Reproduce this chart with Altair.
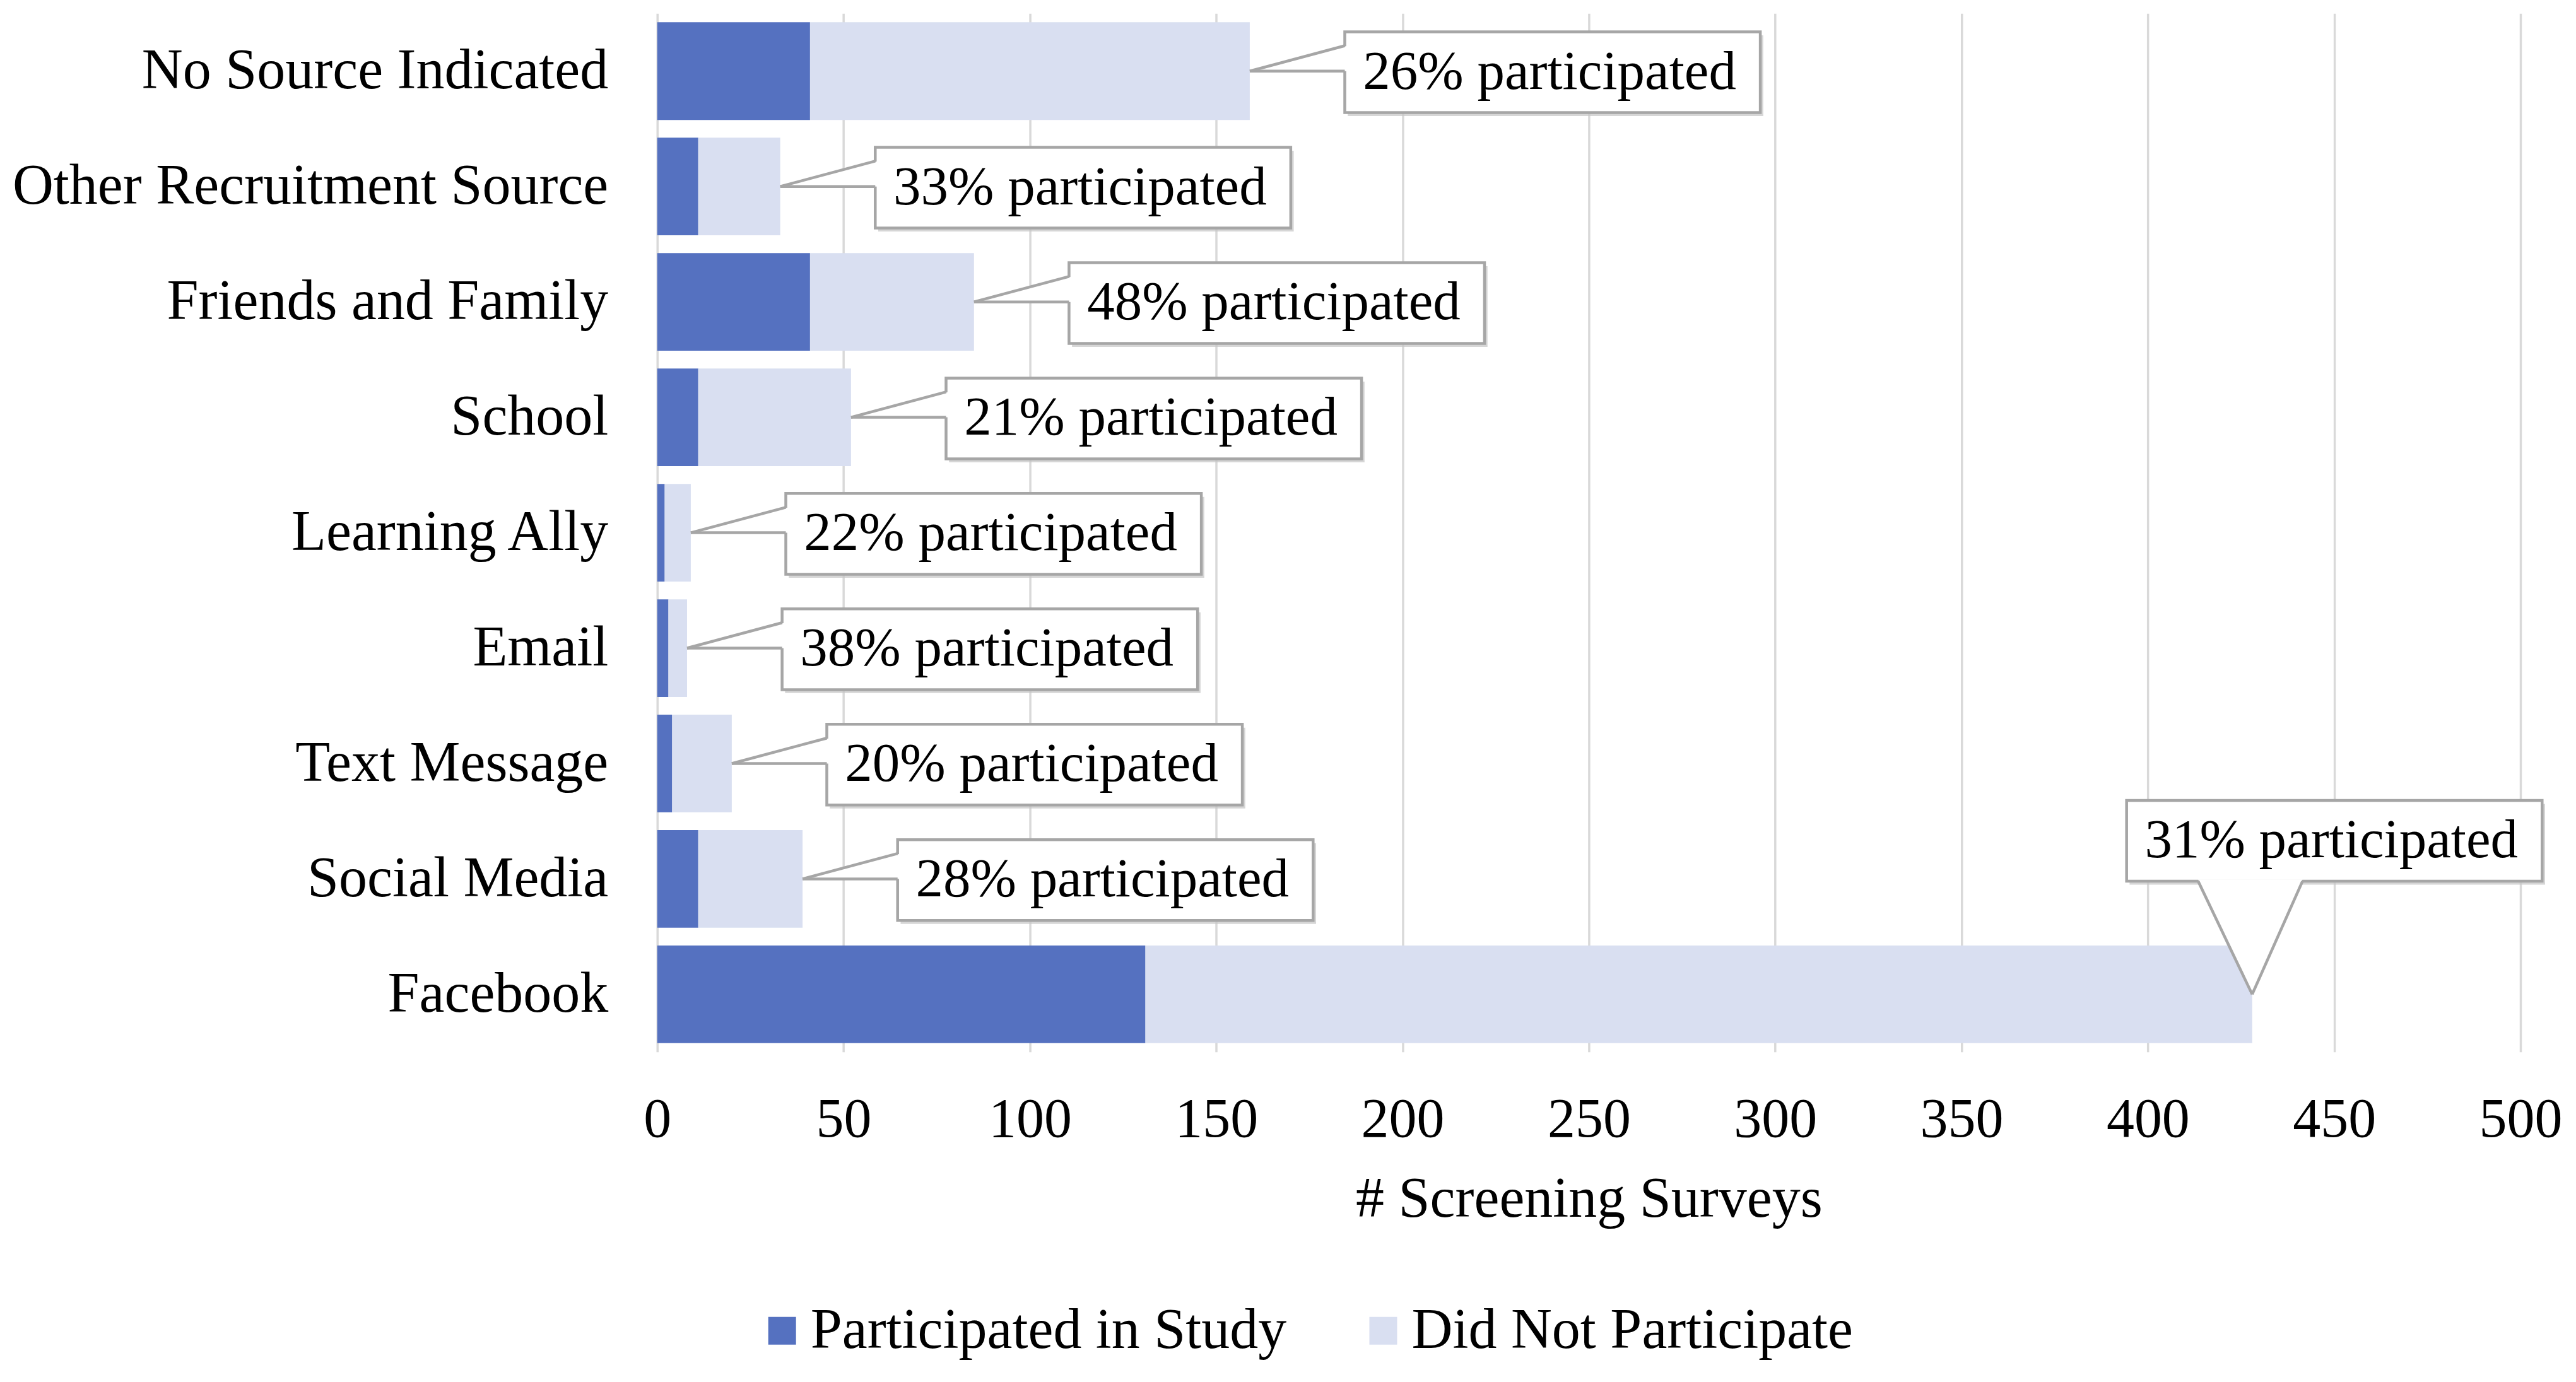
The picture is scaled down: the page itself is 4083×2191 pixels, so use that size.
import json
import altair as alt
import pandas as pd

# ---------------- data ----------------
categories = [
    "No Source Indicated",
    "Other Recruitment Source",
    "Friends and Family",
    "School",
    "Learning Ally",
    "Email",
    "Text Message",
    "Social Media",
    "Facebook",
]
participated = [41, 11, 41, 11, 2, 3, 4, 11, 131]
did_not_participate = [118, 22, 44, 41, 7, 5, 16, 28, 297]
pct_participated = [26, 33, 48, 21, 22, 38, 20, 28, 31]
series_names = ["Participated in Study", "Did Not Participate"]
x_ticks = [0, 50, 100, 150, 200, 250, 300, 350, 400, 450, 500]
x_title = "# Screening Surveys"

# ---------------- style / layout constants ----------------
FONT = "Liberation Serif"
COLORS = ["#5571c0", "#d9dff1"]
BORDER = "#a6a6a6"
XMAX = 500
BAR_HALF = 0.423      # half bar thickness in rows
GAP = 25.5            # distance from bar end to callout box (x units)
BOX_W = 111.5         # callout box width (x units)
BOX_H = 0.70          # callout box height (rows)

# ---------------- derived tables ----------------
bar_rows = []
for i, (p, d) in enumerate(zip(participated, did_not_participate)):
    bar_rows.append({"row": i, "status": series_names[0], "start": 0, "end": p,
                     "y1": i - BAR_HALF, "y2": i + BAR_HALF})
    bar_rows.append({"row": i, "status": series_names[1], "start": p, "end": p + d,
                     "y1": i - BAR_HALF, "y2": i + BAR_HALF})
bars_df = pd.DataFrame(bar_rows)

box_rows, rule_rows, side_wedge, top_wedge = [], [], [], []
for i, (p, d, pc) in enumerate(zip(participated, did_not_participate, pct_participated)):
    total = p + d
    label = f"{pc}% participated"
    if total + GAP + BOX_W <= XMAX:
        bx1 = total + GAP
        bx2 = bx1 + BOX_W
        by1 = i - 0.34
        by2 = by1 + BOX_H
        tip = (total, i)
        b1 = (bx1, i - 0.22)
        b2 = (bx1, i)
        side_wedge.append({"row": i, "x": total, "y": i, "y2": i})
        side_wedge.append({"row": i, "x": bx1 + 0.8, "y": i - 0.22, "y2": i})
    else:
        bx1 = total - 33.7
        bx2 = bx1 + BOX_W
        by2 = i - 0.98
        by1 = by2 - BOX_H
        tip = (total, i)
        b1 = (total - 14.5, by2)
        b2 = (total + 13.5, by2)
        top_wedge.append({"row": i, "y": i, "x": total, "x2": total})
        top_wedge.append({"row": i, "y": by2 - 0.015, "x": total - 14.5, "x2": total + 13.5})
    box_rows.append({"row": i, "bx1": bx1, "bx2": bx2, "by1": by1, "by2": by2,
                     "sx1": bx1 + 0.8, "sx2": bx2 + 0.8, "sy1": by1 + 0.03, "sy2": by2 + 0.03,
                     "tx": (bx1 + bx2) / 2 - 0.8, "ty": (by1 + by2) / 2, "label": label})
    rule_rows.append({"x": tip[0], "y": tip[1], "x2": b1[0], "y2": b1[1]})
    rule_rows.append({"x": tip[0], "y": tip[1], "x2": b2[0], "y2": b2[1]})

boxes_df = pd.DataFrame(box_rows)
rules_df = pd.DataFrame(rule_rows)

# ---------------- scales & axes ----------------
xscale = alt.Scale(domain=[0, XMAX], nice=False, zero=True)
yscale = alt.Scale(domain=[-0.5, len(categories) - 0.5], reverse=True, nice=False, zero=False)

x_axis = alt.Axis(
    values=x_ticks, grid=True, gridColor="#d9d9d9", gridWidth=3.5,
    domain=False, ticks=False, tickSize=0,
    labelFont=FONT, labelFontSize=88, labelColor="black",
    labelPadding=134, labelBaseline="alphabetic", labelFlush=False, labelOverlap=False,
    title=x_title, titleFont=FONT, titleFontSize=90, titleFontWeight="normal",
    titleColor="black", titleBaseline="alphabetic", titleY=261,
)
y_axis = alt.Axis(
    values=list(range(len(categories))),
    labelExpr=f"{json.dumps(categories)}[datum.value]",
    grid=False, domain=False, ticks=False, tickSize=0,
    labelFont=FONT, labelFontSize=90, labelColor="black", labelPadding=78,
    labelLimit=0, labelOverlap=False, title=None,
)


def X(field):
    return alt.X(field, scale=xscale, title=x_title)


def Y(field):
    return alt.Y(field, scale=yscale, title=None)


bars = alt.Chart(bars_df).mark_rect().encode(
    x=alt.X("start:Q", scale=xscale, axis=x_axis, title=x_title),
    x2="end:Q",
    y=alt.Y("y1:Q", scale=yscale, axis=y_axis, title=None),
    y2="y2:Q",
    color=alt.Color(
        "status:N",
        scale=alt.Scale(domain=series_names, range=COLORS),
        legend=alt.Legend(
            orient="none", legendX=153, legendY=2044, direction="horizontal",
            title=None, symbolType="square", symbolSize=1936, symbolStrokeWidth=0,
            labelFont=FONT, labelFontSize=90, labelColor="black", labelOffset=0,
            columnPadding=108, padding=0, labelLimit=0,
        ),
    ),
)

shadow = alt.Chart(boxes_df).mark_rect(color="#c4c4c4", opacity=0.7).encode(
    x=X("sx1:Q"), x2="sx2:Q", y=Y("sy1:Q"), y2="sy2:Q",
)
box = alt.Chart(boxes_df).mark_rect(fill="white", stroke=BORDER, strokeWidth=4.5).encode(
    x=X("bx1:Q"), x2="bx2:Q", y=Y("by1:Q"), y2="by2:Q",
)

layers = [bars, shadow, box]

if side_wedge:
    layers.append(
        alt.Chart(pd.DataFrame(side_wedge)).mark_area(orient="vertical", fill="white").encode(
            x=X("x:Q"), y=Y("y:Q"), y2="y2:Q", detail="row:N",
        )
    )
if top_wedge:
    layers.append(
        alt.Chart(pd.DataFrame(top_wedge)).mark_area(orient="horizontal", fill="white").encode(
            y=Y("y:Q"), x=X("x:Q"), x2="x2:Q", detail="row:N",
        )
    )

wedge_edges = alt.Chart(rules_df).mark_rule(color=BORDER, strokeWidth=4.5).encode(
    x=X("x:Q"), x2="x2:Q", y=Y("y:Q"), y2="y2:Q",
)
texts = alt.Chart(boxes_df).mark_text(
    font=FONT, fontSize=87, color="black", align="center", baseline="middle"
).encode(
    x=X("tx:Q"), y=Y("ty:Q"), text="label:N",
)
layers += [wedge_edges, texts]

chart = alt.layer(*layers).properties(
    width=2954,
    height=1647,
    autosize=alt.AutoSizeParams(type="none"),
    padding={"left": 1034, "top": 13, "right": 80, "bottom": 510},
    background="white",
).configure_view(stroke=None)

chart.save("out.html", embed_options={"renderer": "svg", "actions": False})
